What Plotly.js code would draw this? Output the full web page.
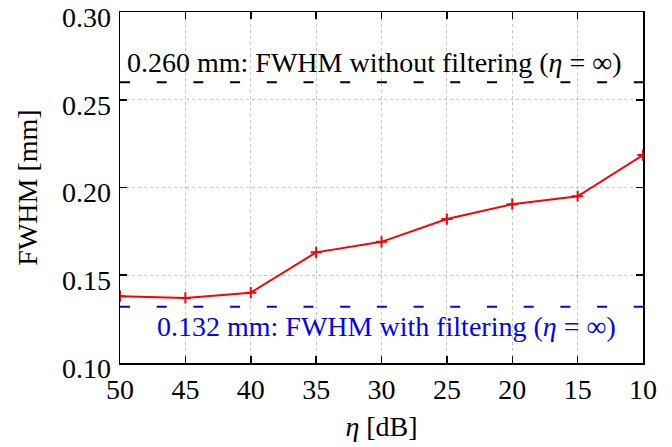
<!DOCTYPE html>
<html><head><meta charset="utf-8">
<script src="https://cdn.plot.ly/plotly-3.0.1.min.js"></script>
<style>body{margin:0;background:#fff}#c{width:672px;height:447px}</style>
</head><body><div id="c"></div>
<script>
var etaDb = [50, 45, 40, 35, 30, 25, 20, 15, 10];
var fwhm = [0.138, 0.137, 0.140, 0.163, 0.169, 0.182, 0.1905, 0.195, 0.2185];
var fwhmNoFilter = 0.260;
var fwhmFilter = 0.132;
var xTicks = [50, 45, 40, 35, 30, 25, 20, 15, 10];
var yTicks = [0.10, 0.15, 0.20, 0.25, 0.30];
var yTickText = ['0.10', '0.15', '0.20', '0.25', '0.30'];

var font = 'Liberation Serif, Times New Roman, serif';
var traces = [
  {x: [50, 10], y: [fwhmNoFilter, fwhmNoFilter], mode: 'lines',
   line: {color: '#000', width: 2, dash: '10px,26.7px'}, hoverinfo: 'skip'},
  {x: [50, 10], y: [fwhmFilter, fwhmFilter], mode: 'lines',
   line: {color: '#0000ff', width: 2, dash: '10px,26.7px'}, hoverinfo: 'skip'},
  {x: etaDb, y: fwhm, mode: 'lines+markers',
   line: {color: '#ff0000', width: 2},
   marker: {symbol: 'cross-thin', size: 8, color: '#ff0000', line: {color: '#ff0000', width: 2}}}
];
var axCommon = {
  showline: true, linecolor: '#000', linewidth: 1.5, mirror: 'ticks',
  ticks: 'inside', ticklen: 7, tickwidth: 1.5, tickcolor: '#000',
  showgrid: true, gridcolor: '#c4c4c4', griddash: 'dot', gridwidth: 1,
  zeroline: false, ticklabeloverflow: 'allow',
  tickfont: {family: font, size: 28, color: '#000'}
};
var layout = {
  width: 672, height: 447, showlegend: false,
  margin: {l: 120, r: 29, t: 12, b: 84},
  paper_bgcolor: '#fff', plot_bgcolor: '#fff',
  font: {family: font, color: '#000'},
  xaxis: Object.assign({}, axCommon, {
    range: [50, 10], tickmode: 'array', tickvals: xTicks, ticklabelstandoff: 1,
    title: {text: '<i>η</i> [dB]', font: {family: font, size: 28}, standoff: 12}
  }),
  yaxis: Object.assign({}, axCommon, {
    range: [0.0999, 0.3001], tickmode: 'array', tickvals: yTicks, ticktext: yTickText,
    ticklabelstandoff: 2, ticklabelshift: 5,
    title: {text: 'FWHM [mm]', font: {family: font, size: 28}, standoff: 16}
  }),
  annotations: [
    {xref: 'paper', yref: 'y', x: 0.487, y: 0.2612, yanchor: 'bottom', xanchor: 'center', showarrow: false,
     text: '0.260 mm: FWHM without filtering (<i>η</i> = ∞)', font: {family: font, size: 28, color: '#000'}},
    {xref: 'paper', yref: 'y', x: 0.51, y: 0.1305, yanchor: 'top', xanchor: 'center', showarrow: false,
     text: '0.132 mm: FWHM with filtering (<i>η</i> = ∞)', font: {family: font, size: 28, color: '#0000ff'}}
  ]
};
Plotly.newPlot('c', traces, layout, {staticPlot: true});
</script></body></html>
